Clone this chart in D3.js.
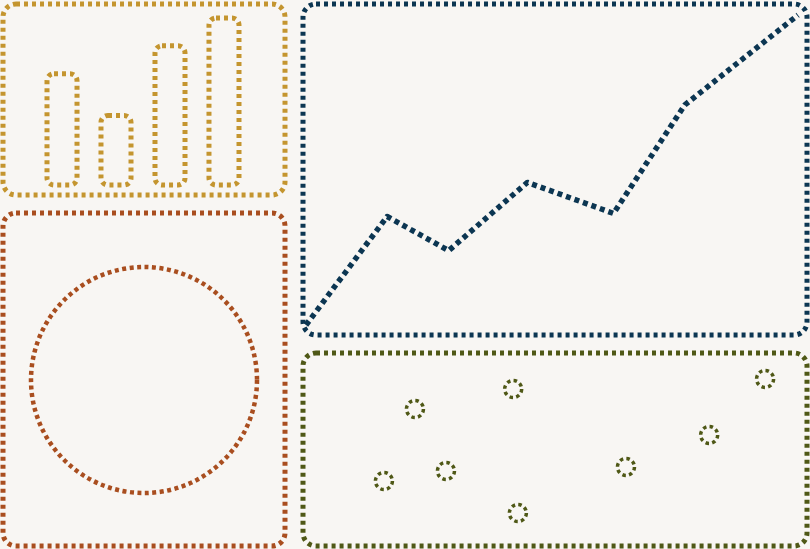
<!DOCTYPE html>
<html>
<head>
<meta charset="utf-8">
<script src="https://cdn.jsdelivr.net/npm/d3@7"></script>
<style>
  html, body { margin: 0; padding: 0; background: #f8f6f3; }
  svg { display: block; }
</style>
</head>
<body>
<div id="visualContainer"></div>
<script>
// bar panel
var barCategories = ["A", "B", "C", "D"];
var barValues = [4, 2.5, 5, 6];

// line panel
var lineX = [0, 16.5, 29, 45, 62.5, 77, 100];
var lineY = [0, 35, 24, 46, 36, 71, 100];

// scatter panel
var scatterX = [13.6, 20.2, 26.8, 41.1, 42.1, 65.1, 82.8, 94.7];
var scatterY = [30.6, 75.6, 36.9, 88.1, 10.6, 39.4, 59.4, 94.4];

// circle panel
var circleValues = [1];

var gold = "#c4952f", rust = "#a94e1f", navy = "#0c3652", olive = "#4f5816";

var svgCanvas = d3.select("#visualContainer")
  .append("svg")
  .attr("width", 810)
  .attr("height", 549);

// the four frames
var panels = [
  {x0: 3, y0: 4, x1: 285, y1: 195, c: gold},
  {x0: 3, y0: 213, x1: 285, y1: 546, c: rust},
  {x0: 303, y0: 4, x1: 807, y1: 335, c: navy},
  {x0: 303, y0: 353, x1: 807, y1: 546, c: olive}
];

svgCanvas.selectAll("rect.frame")
  .data(panels)
  .enter()
    .append("rect")
      .attr("class", "frame")
      .attr("x", function(d){ return d.x0; })
      .attr("y", function(d){ return d.y0; })
      .attr("width", function(d){ return d.x1 - d.x0; })
      .attr("height", function(d){ return d.y1 - d.y0; })
      .attr("rx", 13)
      .attr("fill", "#f8f6f3")
      .attr("stroke", function(d){ return d.c; })
      .attr("stroke-width", 5)
      .attr("stroke-dasharray", "4,4");

// bars
var xBar = d3.scaleBand()
  .domain(barCategories)
  .range([20, 266])
  .paddingInner(0.444)
  .paddingOuter(0.5);

var yBar = d3.scaleLinear()
  .domain([0, 6])
  .range([185, 18]);

svgCanvas.selectAll("rect.bar")
  .data(barValues)
  .enter()
    .append("rect")
      .attr("class", "bar")
      .attr("x", function(d, i){ return xBar(barCategories[i]); })
      .attr("y", function(d){ return yBar(d); })
      .attr("width", xBar.bandwidth())
      .attr("height", function(d){ return yBar(0) - yBar(d); })
      .attr("rx", 7)
      .attr("fill", "none")
      .attr("stroke", gold)
      .attr("stroke-width", 5)
      .attr("stroke-dasharray", "4,4");

// circle
var rScale = d3.scaleLinear().domain([0, 1]).range([0, 113]);

svgCanvas.selectAll("circle.big")
  .data(circleValues)
  .enter()
    .append("circle")
      .attr("class", "big")
      .attr("cx", 144)
      .attr("cy", 380)
      .attr("r", function(d){ return rScale(d); })
      .attr("fill", "none")
      .attr("stroke", rust)
      .attr("stroke-width", 4.5)
      .attr("stroke-dasharray", "4,3.5");

// line
var xLine = d3.scaleLinear().domain([0, 100]).range([306, 798]);
var yLine = d3.scaleLinear().domain([0, 100]).range([325, 15]);

var linePath = d3.line()
  .x(function(d, i){ return xLine(lineX[i]); })
  .y(function(d){ return yLine(d); });

svgCanvas.append("path")
  .datum(lineY)
  .attr("d", linePath)
  .attr("fill", "none")
  .attr("stroke", navy)
  .attr("stroke-width", 5.5)
  .attr("stroke-linejoin", "round")
  .attr("stroke-dasharray", "5,4");

// scatter
var xScat = d3.scaleLinear().domain([0, 100]).range([320, 790]);
var yScat = d3.scaleLinear().domain([0, 100]).range([530, 370]);

svgCanvas.selectAll("circle.dot")
  .data(scatterY)
  .enter()
    .append("circle")
      .attr("class", "dot")
      .attr("cx", function(d, i){ return xScat(scatterX[i]); })
      .attr("cy", function(d){ return yScat(d); })
      .attr("r", 8.5)
      .attr("fill", "none")
      .attr("stroke", olive)
      .attr("stroke-width", 3.5)
      .attr("stroke-dasharray", "3.5,3.2");
</script>
</body>
</html>
